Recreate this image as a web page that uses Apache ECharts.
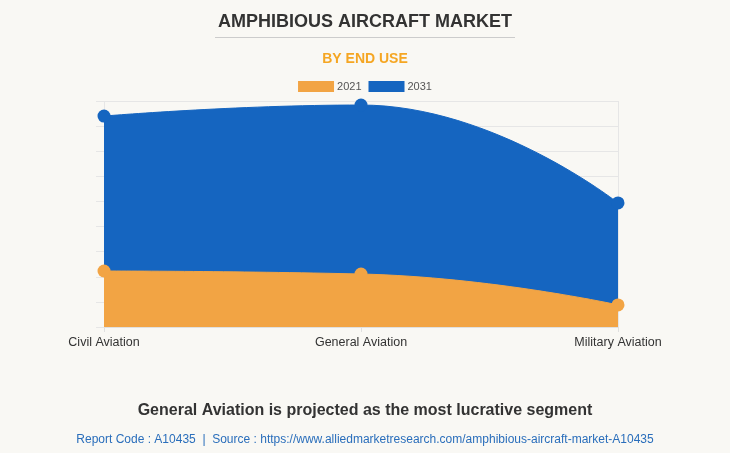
<!DOCTYPE html>
<html>
<head>
<meta charset="utf-8">
<script src="https://cdn.jsdelivr.net/npm/echarts@6/dist/echarts.min.js"></script>
<style>
  html, body { margin: 0; padding: 0; background: #f9f8f4; }
  #chart { width: 730px; height: 453px; }
</style>
</head>
<body>
<div id="chart"></div>
<script>
// categories and values (units arbitrary)
const categories = ['Civil Aviation', 'General Aviation', 'Military Aviation'];
const values2021 = [223, 211, 88];
const values2031 = [840, 884, 494];
const seriesNames = ['2021', '2031'];

const font = 'Arial, "Liberation Sans", sans-serif';

const chart = echarts.init(document.getElementById('chart'));

const option = {
  backgroundColor: '#f9f8f4',
  textStyle: { fontFamily: font },
  title: [
    {
      text: 'AMPHIBIOUS AIRCRAFT MARKET',
      left: 'center',
      top: 8,
      textStyle: { color: '#333', fontSize: 18, fontWeight: 'bold', fontFamily: font }
    },
    {
      text: 'BY END USE',
      left: 'center',
      top: 47,
      textStyle: { color: '#f5a623', fontSize: 14, fontWeight: 'bold', fontFamily: font }
    },
    {
      text: 'General Aviation is projected as the most lucrative segment',
      left: 'center',
      top: 398,
      textStyle: { color: '#333', fontSize: 16, fontWeight: 'bold', fontFamily: font }
    },
    {
      text: 'Report Code : A10435  |  Source : https://www.alliedmarketresearch.com/amphibious-aircraft-market-A10435',
      left: 'center',
      top: 429,
      textStyle: { color: '#2a6ebb', fontSize: 12, fontWeight: 'normal', fontFamily: font }
    }
  ],
  graphic: [
    {
      type: 'line',
      shape: { x1: 215, y1: 37.5, x2: 515, y2: 37.5 },
      style: { stroke: '#cccccc', lineWidth: 1 }
    }
  ],
  legend: {
    data: seriesNames,
    top: 76,
    left: 'center',
    itemWidth: 36,
    itemHeight: 11,
    itemGap: 7,
    icon: 'rect',
    textStyle: { color: '#555', fontSize: 11, padding: [0, 0, 0, -2], fontFamily: font }
  },
  grid: { left: 104, right: 112, top: 101, bottom: 126 },
  xAxis: {
    type: 'category',
    data: categories,
    boundaryGap: false,
    axisLine: { lineStyle: { color: '#e0e0e0' } },
    axisTick: { show: true, length: 5, lineStyle: { color: '#e0e0e0' } },
    splitLine: { show: true, lineStyle: { color: '#e6e6e6' } },
    axisLabel: { color: '#333', fontSize: 12.5, margin: 9, fontFamily: font }
  },
  yAxis: {
    type: 'value',
    min: 0,
    max: 900,
    interval: 100,
    axisLine: { show: false },
    axisTick: { show: true, length: 8, lineStyle: { color: '#e6e6e6' } },
    axisLabel: { show: false },
    splitLine: { lineStyle: { color: '#e6e6e6' } }
  },
  series: [
    {
      name: '2031',
      type: 'line',
      data: values2031,
      smooth: true,
      symbol: 'circle',
      symbolSize: 13,
      color: '#1565c0',
      lineStyle: { width: 1, color: '#1565c0' },
      itemStyle: { color: '#1565c0' },
      areaStyle: { color: '#1565c0', opacity: 1 },
      z: 2
    },
    {
      name: '2021',
      type: 'line',
      data: values2021,
      smooth: true,
      symbol: 'circle',
      symbolSize: 13,
      color: '#f2a444',
      lineStyle: { width: 1, color: '#f2a444' },
      itemStyle: { color: '#f2a444' },
      areaStyle: { color: '#f2a444', opacity: 1 },
      z: 3
    }
  ]
};

chart.setOption(option);
</script>
</body>
</html>
